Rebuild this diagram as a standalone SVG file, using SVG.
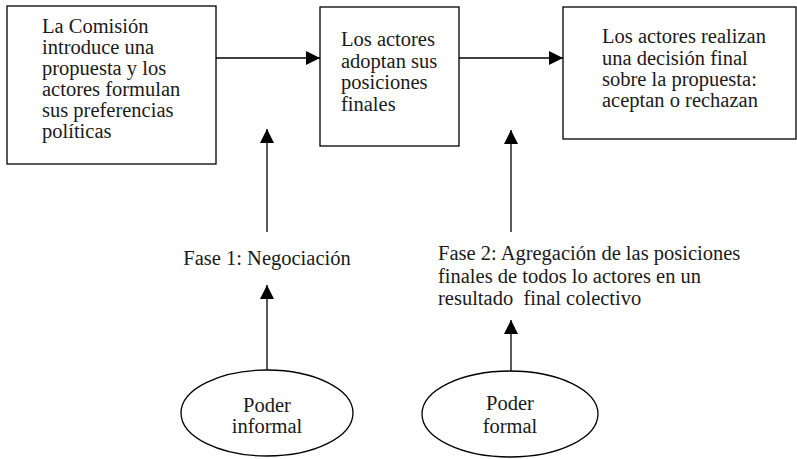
<svg xmlns="http://www.w3.org/2000/svg" width="797" height="459" viewBox="0 0 797 459">
<style>
  .box { fill: #fff; stroke: #000; stroke-width: 1.3; }
  .ell { fill: #fff; stroke: #000; stroke-width: 1.3; }
  .t { font-family: "Liberation Serif", "Times New Roman", serif; font-size: 20.5px; fill: #1a1a1a; }
  .c { text-anchor: middle; }
  .ln { stroke: #000; stroke-width: 1.3; fill: none; marker-end: url(#ah); }
</style>
<defs>
  <marker id="ah" viewBox="0 0 14 14" refX="14" refY="7" markerWidth="14" markerHeight="14" markerUnits="userSpaceOnUse" orient="auto">
    <path d="M0,0 L14,7 L0,14 Z" fill="#000"/>
  </marker>
</defs>
<rect width="797" height="459" fill="#fff"/>
<g id="connectors">
  <line class="ln" x1="216" y1="58" x2="320" y2="58"/>
  <line class="ln" x1="459" y1="58" x2="563" y2="58"/>
  <line class="ln" x1="267" y1="232" x2="267" y2="129"/>
  <line class="ln" x1="511" y1="232" x2="511" y2="130"/>
  <line class="ln" x1="267" y1="370" x2="267" y2="285"/>
  <line class="ln" x1="511" y1="372" x2="511" y2="320"/>
</g>
<g id="box1">
  <rect class="box" x="7" y="6" width="209" height="158"/>
  <text class="t" x="42" y="33">La Comisión</text>
  <text class="t" x="42" y="54">introduce una</text>
  <text class="t" x="42" y="75">propuesta y los</text>
  <text class="t" x="42" y="96">actores formulan</text>
  <text class="t" x="42" y="117">sus preferencias</text>
  <text class="t" x="42" y="138">políticas</text>
</g>
<g id="box2">
  <rect class="box" x="320" y="7" width="139" height="139"/>
  <text class="t" x="341" y="46">Los actores</text>
  <text class="t" x="341" y="68">adoptan sus</text>
  <text class="t" x="341" y="89">posiciones</text>
  <text class="t" x="341" y="111">finales</text>
</g>
<g id="box3">
  <rect class="box" x="563" y="7" width="233" height="132"/>
  <text class="t" x="602" y="43">Los actores realizan</text>
  <text class="t" x="602" y="65">una decisión final</text>
  <text class="t" x="602" y="86">sobre la propuesta:</text>
  <text class="t" x="602" y="107">aceptan o rechazan</text>
</g>
<g id="fase1">
  <text class="t c" x="267" y="265">Fase 1: Negociación</text>
</g>
<g id="fase2">
  <text class="t" x="438" y="260">Fase 2: Agregación de las posiciones</text>
  <text class="t" x="438" y="283">finales de todos lo actores en un</text>
  <text class="t" x="438" y="305" xml:space="preserve">resultado  final colectivo</text>
</g>
<g id="poder-informal">
  <ellipse class="ell" cx="267" cy="413" rx="86" ry="43"/>
  <text class="t c" x="267" y="412">Poder</text>
  <text class="t c" x="267" y="433">informal</text>
</g>
<g id="poder-formal">
  <ellipse class="ell" cx="510" cy="414" rx="88" ry="43"/>
  <text class="t c" x="510" y="410">Poder</text>
  <text class="t c" x="510" y="433">formal</text>
</g>
</svg>
